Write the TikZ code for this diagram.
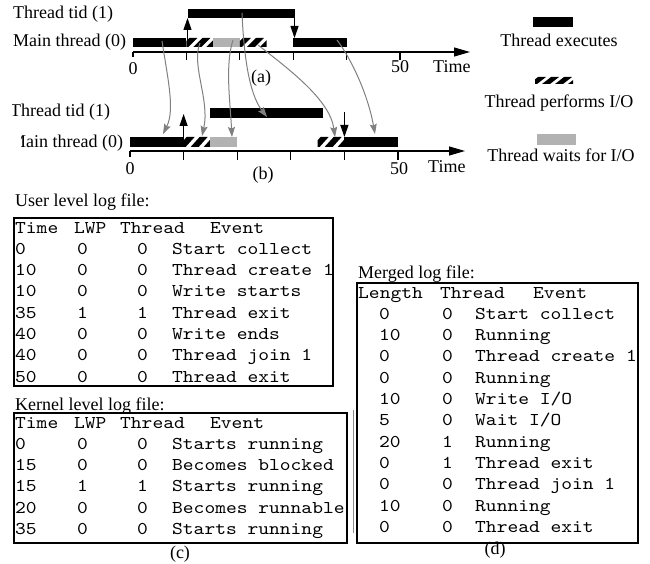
\documentclass[tikz,border=0pt]{standalone}
\usepackage{fontspec}
\setmainfont{Liberation Serif}
\newfontfamily\cour{lmmono10-regular.otf}[FakeStretch=1.14]
\usetikzlibrary{arrows.meta}
\newcommand\hatchbar[4]{%
  \begin{scope}
    \clip (#1,#3) rectangle (#2,#4);
    \foreach \k in {0,1,2,3}{%
      \fill ({#1-6+13*\k},#4) -- ++(8,0) -- ++(9,{#3-#4}) -- ++(-8,0) -- cycle;
    }
  \end{scope}}
\tikzset{
  lbl/.style={font=\fontsize{18}{21}\selectfont, inner sep=0pt},
  mono/.style={font=\cour\fontsize{18}{21}\selectfont, inner sep=0pt, anchor=base west},
  waitbar/.style={fill=black!30},
  ga/.style={draw=black!50, line width=1pt, -{Stealth[length=10pt,width=7pt,inset=1.5pt]}},
  ba/.style={line width=1.2pt, -{Triangle[length=12pt,width=8pt]}},
  timeaxis/.style={line width=1.1pt, -{Triangle[length=16pt,width=9pt]}},
  tk/.style={line width=1.1pt},
  logbox/.style={draw, line width=2.7pt},
}
\begin{document}
\begin{tikzpicture}[x=1pt,y=-1pt]
\useasboundingbox (0,0) rectangle (650,564);

% ---------------- timeline (a)
\fill (133,38) rectangle (186.4,47);
\hatchbar{186.4}{213.1}{38}{47}
\fill[waitbar] (213.1,38) rectangle (239.8,47);
\hatchbar{239.8}{266.5}{38}{47}
\fill (293.2,38) rectangle (346.6,47);
\fill (187.5,9) rectangle (294.5,18);
\coordinate (aus) at (187.5,47); \coordinate (aue) at (187.5,18);
\coordinate (ads) at (294.5,18); \coordinate (ade) at (294.5,38);
\draw[ba] (aus) -- (aue);
\draw[ba] (ads) -- (ade);
\coordinate (ax0) at (133,52); \coordinate (ax1) at (470,52);
\draw[timeaxis] (ax0) -- (ax1);
\draw[tk] (133,52) -- ++(0,5);
\foreach \t in {10,20,30,40,50} \draw[tk] ({133+5.34*\t},52) -- ++(0,8);
\node[lbl,anchor=base west] (lta) at (13,18.3) {Thread tid (1)};
\node[lbl,anchor=base west] (lma) at (13,47) {Main thread (0)};
\node[lbl,anchor=base] (za) at (133,75) {0};
\node[lbl,anchor=base] (fa) at (400,73) {50};
\node[lbl,anchor=base west] (ta) at (433,73) {Time};
\node[lbl,anchor=base] (capa) at (261,83) {(a)};

% ---------------- timeline (b)
\fill (130,137) rectangle (183.6,147);
\hatchbar{183.6}{210.4}{137}{147}
\fill[waitbar] (210.4,137) rectangle (237.2,147);
\hatchbar{317.6}{344.4}{137}{147}
\fill (344.4,137) rectangle (398,147);
\fill (210.4,108) rectangle (322.7,118);
\coordinate (bus) at (183.6,146); \coordinate (bue) at (183.6,114);
\coordinate (bds) at (344.4,112); \coordinate (bde) at (344.4,137);
\draw[ba] (bus) -- (bue);
\draw[ba] (bds) -- (bde);
\coordinate (bx0) at (130,151); \coordinate (bx1) at (465,151);
\draw[timeaxis] (bx0) -- (bx1);
\draw[tk] (130,151) -- ++(0,6);
\foreach \t in {10,20,30,40,50} \draw[tk] ({130+5.36*\t},151) -- ++(0,9);
\begin{scope}
  \clip (12.5,95) rectangle (130,125);
  \node[lbl,anchor=base west] (ltb) at (10,116.7) {Thread tid (1)};
\end{scope}
\begin{scope}
  \clip (21,125) rectangle (130,155);
  \node[lbl,anchor=base west] (lmb) at (10,147.3) {Main thread (0)};
\end{scope}
\node[lbl,anchor=base] (zb) at (130,175) {0};
\node[lbl,anchor=base] (fb) at (399,175) {50};
\node[lbl,anchor=base west] (tb) at (428,172) {Time};
\node[lbl,anchor=base] (capb) at (263,180) {(b)};

% ---------------- gray connectors
\coordinate (s1) at (162,41);  \coordinate (e1) at (163,134);
\coordinate (s2) at (200,43);  \coordinate (e2) at (202,136);
\coordinate (s3) at (233,40);  \coordinate (e3) at (232,137);
\coordinate (s4) at (242,13);  \coordinate (e4) at (267,117);
\coordinate (s5) at (258,45);  \coordinate (e5) at (335,137);
\coordinate (s6) at (337,40);  \coordinate (e6) at (375,134);
\draw[ga] (s1) .. controls (168,80) and (175,110) .. (e1);
\draw[ga] (s2) .. controls (191,65) and (210,100) .. (e2);
\draw[ga] (s3) .. controls (225,65) and (230,100) .. (e3);
\draw[ga] (s4) .. controls (244,60) and (250,95) .. (e4);
\draw[ga] (s5) .. controls (290,70) and (330,100) .. (e5);
\draw[ga] (s6) .. controls (352,60) and (368,95) .. (e6);

% ---------------- legend
\fill (533,17) rectangle (573,27);
\node[lbl,anchor=base] (lg1) at (559,47) {Thread executes};
\hatchbar{535}{573}{77}{84}
\node[lbl,anchor=base] (lg2) at (559,108) {Thread performs I/O};
\fill[waitbar] (537,134) rectangle (576,145);
\node[lbl,anchor=base] (lg3) at (561,162) {Thread waits for I/O};

% ---------------- user level log
\node[lbl,anchor=base west] (ut) at (15,207) {User level log file:};
\node[mono] (uh1) at (15,233) {Time};
\node[mono] (uh2) at (74,233) {LWP};
\node[mono] (uh3) at (120,233) {Thread};
\node[mono] (uh4) at (210,233) {Event};
\foreach \tm/\lw/\th/\ev [count=\i] in {0/0/0/{Start collect},10/0/0/{Thread create 1},10/0/0/{Write starts},35/1/1/{Thread exit},40/0/0/{Write ends},40/0/0/{Thread join 1},50/0/0/{Thread exit}}{
  \pgfmathsetmacro\yy{233+21.3*\i}
  \node[mono] (u\i a) at (15,\yy) {\tm};
  \node[mono] (u\i b) at (77,\yy) {\lw};
  \node[mono] (u\i c) at (137,\yy) {\th};
  \node[mono] (u\i d) at (172,\yy) {\ev};
}
\draw[logbox] (14,218) rectangle (333,386);

% ---------------- kernel level log
\node[lbl,anchor=base west] (kt) at (15,410) {Kernel level log file:};
\node[mono] (kh1) at (15,428) {Time};
\node[mono] (kh2) at (74,428) {LWP};
\node[mono] (kh3) at (120,428) {Thread};
\node[mono] (kh4) at (210,428) {Event};
\foreach \tm/\lw/\th/\ev [count=\i] in {0/0/0/{Starts running},15/0/0/{Becomes blocked},15/1/1/{Starts running},20/0/0/{Becomes runnable},35/0/0/{Starts running}}{
  \pgfmathsetmacro\yy{428+21.3*\i}
  \node[mono] (k\i a) at (15,\yy) {\tm};
  \node[mono] (k\i b) at (77,\yy) {\lw};
  \node[mono] (k\i c) at (137,\yy) {\th};
  \node[mono] (k\i d) at (172,\yy) {\ev};
}
\draw[logbox] (14,413) rectangle (347,543);
\node[lbl,anchor=base] (capc) at (180,558.5) {(c)};

% ---------------- merged log
\draw[black!45, line width=0.6pt] (353,410) -- (353,533);
\node[lbl,anchor=base west] (mt) at (358,278) {Merged log file:};
\node[mono] (mh1) at (358,298) {Length};
\node[mono] (mh2) at (440,298) {Thread};
\node[mono] (mh3) at (533,298) {Event};
\foreach \ln/\th/\ev [count=\i] in {0/0/{Start collect},10/0/{Running},0/0/{Thread create 1},0/0/{Running},10/0/{Write I/O},5/0/{Wait I/O},20/1/{Running},0/1/{Thread exit},0/0/{Thread join 1},10/0/{Running},0/0/{Thread exit}}{
  \pgfmathsetmacro\yy{298+21.3*\i}
  \node[mono] (m\i a) at (379,\yy) {\ln};
  \node[mono] (m\i b) at (442,\yy) {\th};
  \node[mono] (m\i c) at (475,\yy) {\ev};
}
\draw[logbox] (357,283) rectangle (638,543);
\node[lbl,anchor=base] (capd) at (495,554) {(d)};
\end{tikzpicture}
\end{document}
